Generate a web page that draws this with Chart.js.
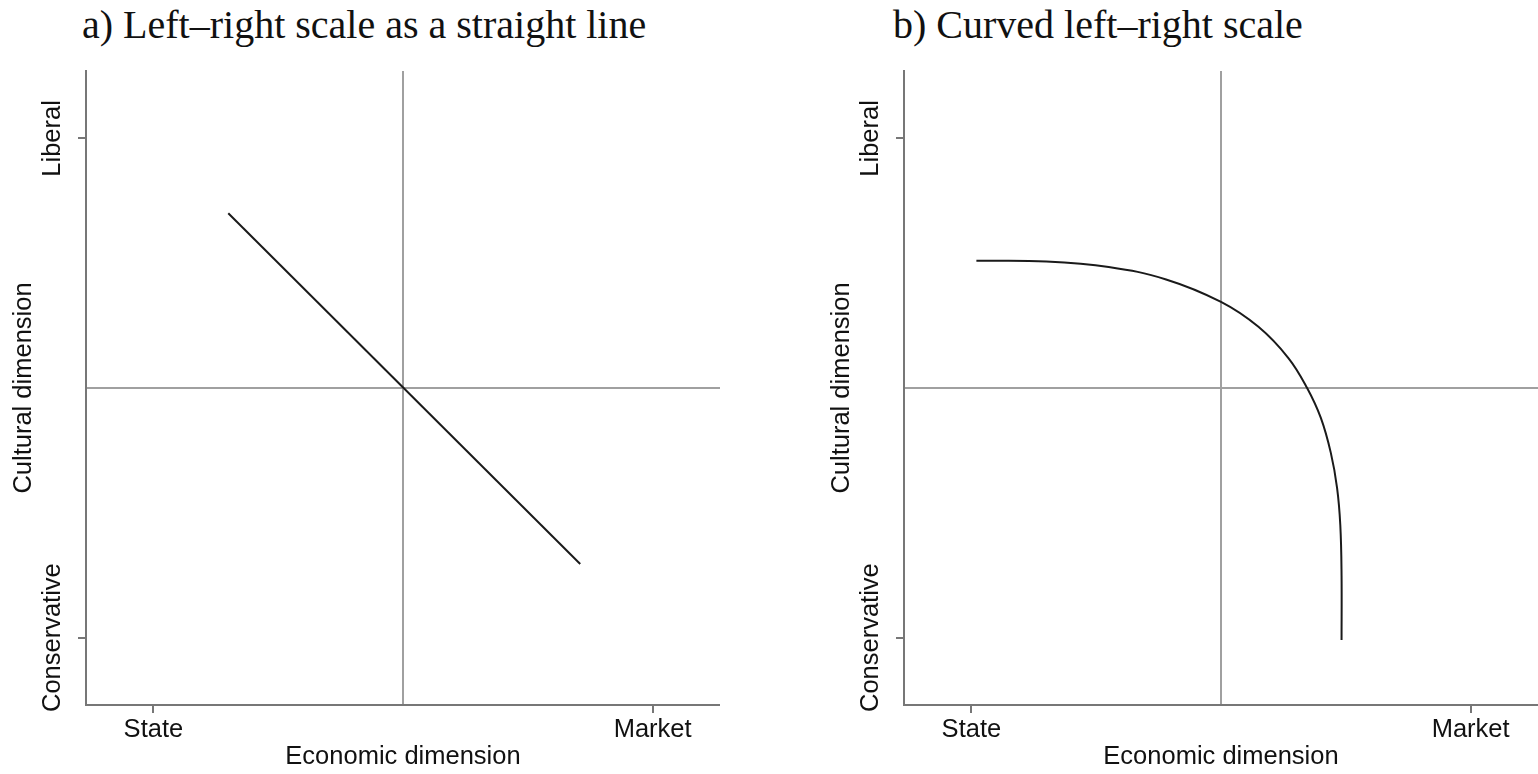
<!DOCTYPE html>
<html lang="en">
<head>
    <meta charset="UTF-8">
    <title>Left-right scale</title>
    <script src="https://cdn.jsdelivr.net/npm/chart.js"></script>
    <style>
        body {
            margin: 0;
            background: #fff;
            width: 1538px;
            height: 774px;
            position: relative;
            overflow: hidden;
        }
        .panel-title {
            position: absolute;
            top: 5px;
            font-family: "Liberation Serif", "Times New Roman", serif;
            font-size: 40px;
            line-height: 40px;
            color: #111;
            white-space: nowrap;
        }
        .panel {
            position: absolute;
            top: 0;
            width: 720px;
            height: 774px;
        }
    </style>
</head>
<body>
    <div class="panel-title" style="left: 82px;">a) Left–right scale as a straight line</div>
    <div class="panel-title" style="left: 893px;">b) Curved left–right scale</div>
    <div class="panel" style="left: 0;"><canvas id="straightChart"></canvas></div>
    <div class="panel" style="left: 818px;"><canvas id="curvedChart"></canvas></div>
    <script>
        // axis ticks
        const xTickVals = [-1, 0, 1];
        const xTickLabels = ['State', '', 'Market'];
        const yTickVals = [-1, 0, 1];
        const yTickLabels = ['Conservative', '', 'Liberal'];

        // a) straight line
        const straightX = [-0.7, 0.71];
        const straightY = [0.7, -0.705];

        // b) curved line (roughly even spacing along the curve)
        const curvedX = [-0.98, -0.70, -0.45, -0.22, 0.0, 0.15, 0.27, 0.345, 0.40, 0.44, 0.465, 0.478, 0.483, 0.483];
        const curvedY = [0.51, 0.507, 0.485, 0.435, 0.345, 0.245, 0.12, 0.0, -0.12, -0.26, -0.40, -0.55, -0.75, -1.01];

        const FONT = '"Liberation Sans", Arial, Helvetica, sans-serif';
        const FONT_SIZE = 25.5;

        // measure the widest y label so the rotated labels sit where they should
        const measureCtx = document.createElement('canvas').getContext('2d');
        measureCtx.font = FONT_SIZE + 'px ' + FONT;
        const widestY = Math.max(...yTickLabels.map(t => measureCtx.measureText(t).width));

        function toPoints(xs, ys) {
            return xs.map((x, i) => ({ x: x, y: ys[i] }));
        }

        function labelFor(vals, labels) {
            return function (value) {
                const i = vals.indexOf(value);
                return i >= 0 ? labels[i] : '';
            };
        }

        function makeChart(id, points, tension) {
            const ctx = document.getElementById(id).getContext('2d');
            return new Chart(ctx, {
                type: 'scatter',
                data: {
                    datasets: [{
                        data: points,
                        showLine: true,
                        borderColor: '#1a1a1a',
                        borderWidth: 2,
                        pointRadius: 0,
                        tension: tension
                    }]
                },
                options: {
                    responsive: true,
                    maintainAspectRatio: false,
                    animation: false,
                    layout: { padding: { top: 71, right: 0, bottom: 0, left: 0 } },
                    plugins: {
                        legend: { display: false },
                        tooltip: { enabled: false }
                    },
                    scales: {
                        x: {
                            type: 'linear',
                            min: -1.27,
                            max: 1.27,
                            afterBuildTicks: s => { s.ticks = xTickVals.map(v => ({ value: v })); },
                            afterFit: s => { s.height = 69; },
                            border: { display: true, color: '#777', width: 2 },
                            grid: {
                                color: c => c.tick && c.tick.value === 0 ? '#a0a0a0' : 'rgba(0,0,0,0)',
                                tickColor: c => c.tick && c.tick.value === 0 ? 'rgba(0,0,0,0)' : '#777',
                                lineWidth: 2,
                                tickWidth: 2,
                                tickLength: 8
                            },
                            ticks: {
                                autoSkip: false,
                                maxRotation: 0,
                                padding: 2,
                                color: '#111',
                                font: { family: FONT, size: FONT_SIZE },
                                callback: labelFor(xTickVals, xTickLabels)
                            },
                            title: {
                                display: true,
                                text: 'Economic dimension',
                                color: '#111',
                                font: { family: FONT, size: FONT_SIZE },
                                padding: { top: 0, bottom: 2 }
                            }
                        },
                        y: {
                            type: 'linear',
                            min: -1.27,
                            max: 1.27,
                            afterBuildTicks: s => { s.ticks = yTickVals.map(v => ({ value: v })); },
                            afterFit: s => { s.width = 86; },
                            border: { display: true, color: '#777', width: 2 },
                            grid: {
                                color: c => c.tick && c.tick.value === 0 ? '#a0a0a0' : 'rgba(0,0,0,0)',
                                tickColor: c => c.tick && c.tick.value === 0 ? 'rgba(0,0,0,0)' : '#777',
                                lineWidth: 2,
                                tickWidth: 2,
                                tickLength: 8
                            },
                            ticks: {
                                autoSkip: false,
                                minRotation: 90,
                                maxRotation: 90,
                                crossAlign: 'center',
                                padding: 25 - widestY / 2,
                                color: '#111',
                                font: { family: FONT, size: FONT_SIZE },
                                callback: labelFor(yTickVals, yTickLabels)
                            },
                            title: {
                                display: true,
                                text: 'Cultural dimension',
                                color: '#111',
                                font: { family: FONT, size: FONT_SIZE },
                                padding: { top: 9, bottom: 0 }
                            }
                        }
                    }
                }
            });
        }

        makeChart('straightChart', toPoints(straightX, straightY), 0);
        makeChart('curvedChart', toPoints(curvedX, curvedY), 0.4);
    </script>
</body>
</html>
